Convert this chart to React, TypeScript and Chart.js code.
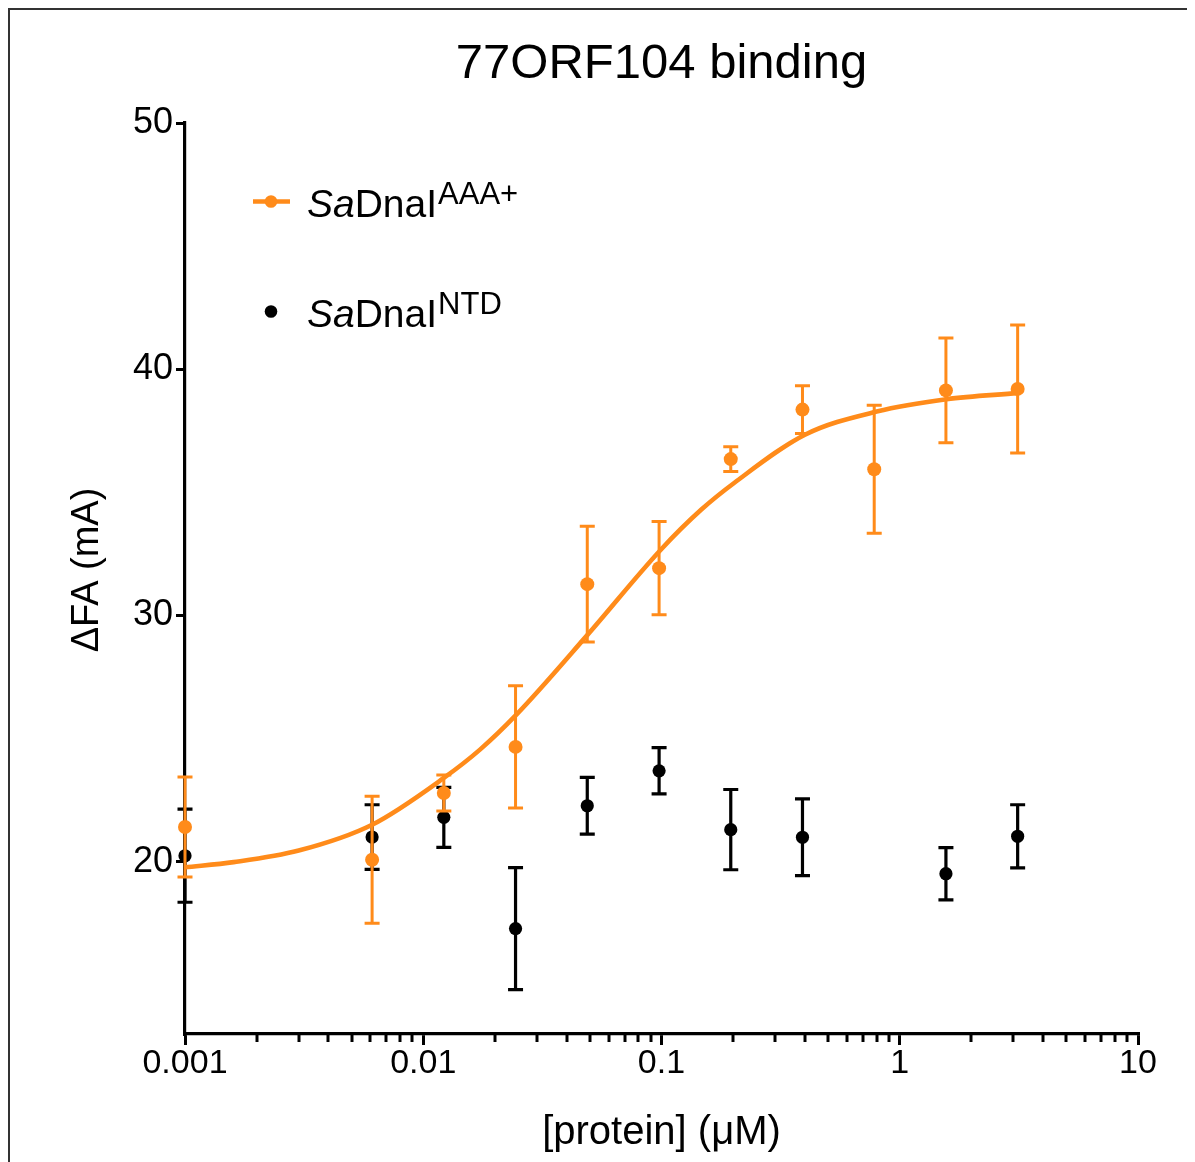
import React, { useEffect, useRef } from 'react';
import { Chart, registerables } from 'chart.js';

Chart.register(...registerables);

// ---- data ----
const chartTitle = '77ORF104 binding';
const yAxisTitle = 'ΔFA (mA)';
const xAxisTitle = '[protein] (μM)';
const concentrations = [0.001, 0.0061, 0.0122, 0.0244, 0.0488, 0.0977, 0.1953, 0.3906, 0.7813, 1.5625, 3.125];
const aaaMean = [21.41, 20.08, 22.79, 24.66, 31.27, 31.92, 36.35, 38.36, 35.94, 39.14, 39.2];
const aaaSem = [2.03, 2.58, 0.73, 2.48, 2.35, 1.89, 0.5, 0.97, 2.6, 2.13, 2.6];
const ntdMean = [20.24, 21.0, 21.8, 17.28, 22.27, 23.69, 21.3, 20.99, null, 19.51, 21.03];
const ntdSem = [1.89, 1.31, 1.22, 2.48, 1.15, 0.94, 1.63, 1.56, null, 1.06, 1.28];
const fitConc = [0.001, 0.0016, 0.003, 0.0061, 0.0122, 0.0173, 0.0246, 0.0488, 0.1, 0.147, 0.203, 0.4, 0.8, 1.57, 3.125];
const fitValues = [19.77, 19.98, 20.45, 21.5, 23.4, 24.55, 25.97, 29.2, 32.7, 34.3, 35.4, 37.34, 38.28, 38.78, 39.03];
const xMajorTicks = [0.001, 0.01, 0.1, 1, 10];
const xMajorLabels = ['0.001', '0.01', '0.1', '1', '10'];
const xMinorMultipliers = [2, 3, 4, 5, 6, 7, 8, 9];
const yTicks = [20, 30, 40, 50];
const legendNames = [
  { prefix: 'Sa', name: 'DnaI', sup: 'AAA+' },
  { prefix: 'Sa', name: 'DnaI', sup: 'NTD' },
];

const ORANGE = '#ff8b1a';
const BLACK = '#000000';
const FONT = "'Liberation Sans', Arial, Helvetica, sans-serif";

const errorBarPlugin = {
  id: 'errorBars',
  beforeDatasetDraw(chart: any, args: any) {
    const ds = chart.data.datasets[args.index];
    if (!ds.errors) return;
    const { ctx } = chart;
    const x = chart.scales.x;
    const y = chart.scales.y;
    const cap = 7.5;
    ctx.save();
    ctx.strokeStyle = ds.errorColor;
    ctx.lineWidth = ds.errorWidth;
    ctx.lineCap = 'butt';
    ds.data.forEach((p: any, i: number) => {
      const e = ds.errors[i];
      if (p.y == null || e == null) return;
      const px = x.getPixelForValue(p.x);
      const top = y.getPixelForValue(p.y + e);
      const bot = y.getPixelForValue(p.y - e);
      ctx.beginPath();
      ctx.moveTo(px, top);
      ctx.lineTo(px, bot);
      ctx.moveTo(px - cap, top);
      ctx.lineTo(px + cap, top);
      ctx.moveTo(px - cap, bot);
      ctx.lineTo(px + cap, bot);
      ctx.stroke();
    });
    ctx.restore();
  },
};

const minorTickPlugin = {
  id: 'minorTicks',
  afterDraw(chart: any) {
    const { ctx, chartArea } = chart;
    const x = chart.scales.x;
    ctx.save();
    ctx.strokeStyle = BLACK;
    ctx.lineWidth = 3;
    for (let d = 0; d < xMajorTicks.length - 1; d++) {
      for (const m of xMinorMultipliers) {
        const px = Math.round(x.getPixelForValue(xMajorTicks[d] * m));
        ctx.beginPath();
        ctx.moveTo(px, chartArea.bottom);
        ctx.lineTo(px, chartArea.bottom + 8);
        ctx.stroke();
      }
    }
    ctx.restore();
  },
};

const titlePlugin = {
  id: 'centeredTitles',
  afterDraw(chart: any) {
    const { ctx, chartArea } = chart;
    ctx.save();
    ctx.fillStyle = BLACK;
    ctx.font = `49px ${FONT}`;
    ctx.textAlign = 'center';
    ctx.textBaseline = 'alphabetic';
    ctx.fillText(chartTitle, (chartArea.left + chartArea.right) / 2, 68);

    ctx.translate(78, 560);
    ctx.rotate(-Math.PI / 2);
    ctx.font = `38px ${FONT}`;
    ctx.textBaseline = 'middle';
    ctx.fillText(yAxisTitle, 0, 0);
    ctx.restore();
  },
};

const customLegendPlugin = {
  id: 'customLegend',
  afterDraw(chart: any) {
    const { ctx } = chart;
    const rows = [
      { markerY: 191.5, baseline: 207, color: ORANGE, line: true },
      { markerY: 301.5, baseline: 317, color: BLACK, line: false },
    ];
    ctx.save();
    rows.forEach((r, i) => {
      const item = legendNames[i];
      const mx = 261;
      if (r.line) {
        ctx.strokeStyle = r.color;
        ctx.lineWidth = 4.5;
        ctx.beginPath();
        ctx.moveTo(243, r.markerY);
        ctx.lineTo(280, r.markerY);
        ctx.stroke();
      }
      ctx.fillStyle = r.color;
      ctx.beginPath();
      ctx.arc(mx, r.markerY, 6.3, 0, Math.PI * 2);
      ctx.fill();

      ctx.fillStyle = BLACK;
      ctx.textBaseline = 'alphabetic';
      ctx.textAlign = 'left';
      let tx = 297;
      ctx.font = `italic 39px ${FONT}`;
      ctx.fillText(item.prefix, tx, r.baseline);
      tx += ctx.measureText(item.prefix).width;
      ctx.font = `39px ${FONT}`;
      ctx.fillText(item.name, tx, r.baseline);
      tx += ctx.measureText(item.name).width + 1;
      ctx.font = `31px ${FONT}`;
      ctx.fillText(item.sup, tx, r.baseline - 13);
    });
    ctx.restore();
  },
};

export default function App() {
  const canvasRef = useRef<HTMLCanvasElement | null>(null);

  useEffect(() => {
    if (!canvasRef.current) return;
    const aaaPoints = concentrations.map((c, i) => ({ x: c, y: aaaMean[i] }));
    const ntdPoints: any[] = [];
    const ntdErrors: any[] = [];
    concentrations.forEach((c, i) => {
      if (ntdMean[i] != null) {
        ntdPoints.push({ x: c, y: ntdMean[i] });
        ntdErrors.push(ntdSem[i]);
      }
    });
    const fitPoints = fitConc.map((c, i) => ({ x: c, y: fitValues[i] }));

    const chart = new Chart(canvasRef.current, {
      type: 'scatter',
      data: {
        datasets: [
          {
            label: 'SaDnaI AAA+',
            data: aaaPoints,
            showLine: false,
            pointRadius: 7,
            pointBorderWidth: 0,
            pointBackgroundColor: ORANGE,
            backgroundColor: ORANGE,
            borderColor: ORANGE,
            clip: false,
            errors: aaaSem,
            errorColor: ORANGE,
            errorWidth: 3,
          } as any,
          {
            label: 'fit',
            data: fitPoints,
            showLine: true,
            pointRadius: 0,
            borderColor: ORANGE,
            borderWidth: 4.6,
            cubicInterpolationMode: 'monotone',
            clip: false,
          } as any,
          {
            label: 'SaDnaI NTD',
            data: ntdPoints,
            showLine: false,
            pointRadius: 6.6,
            pointBorderWidth: 0,
            pointBackgroundColor: BLACK,
            backgroundColor: BLACK,
            borderColor: BLACK,
            clip: false,
            errors: ntdErrors,
            errorColor: BLACK,
            errorWidth: 3.2,
          } as any,
        ],
      },
      options: {
        responsive: false,
        animation: false,
        events: [],
        layout: { padding: { top: 113, right: 57, bottom: 0, left: 0 } },
        plugins: {
          legend: { display: false },
          tooltip: { enabled: false },
          title: { display: false },
        },
        scales: {
          x: {
            type: 'logarithmic',
            min: 0.001,
            max: 10,
            afterBuildTicks: (s: any) => {
              s.ticks = xMajorTicks.map((v) => ({ value: v, major: true }));
            },
            afterFit: (s: any) => {
              s.height = 128;
            },
            ticks: {
              autoSkip: false,
              maxRotation: 0,
              minRotation: 0,
              color: BLACK,
              padding: 2,
              font: { family: FONT, size: 34, lineHeight: 1 },
              callback: (_v: any, i: number) => xMajorLabels[i],
            },
            grid: {
              display: true,
              drawOnChartArea: false,
              drawTicks: true,
              tickLength: 11,
              tickWidth: 3,
              lineWidth: 3,
              color: BLACK,
              tickColor: BLACK,
            },
            border: { display: true, color: BLACK, width: 3.2 },
            title: {
              display: true,
              text: xAxisTitle,
              color: BLACK,
              font: { family: FONT, size: 40, lineHeight: 1.2 },
              padding: { top: 0, bottom: 5 },
            },
          } as any,
          y: {
            type: 'linear',
            min: 13,
            max: 50,
            afterBuildTicks: (s: any) => {
              s.ticks = yTicks.map((v) => ({ value: v }));
            },
            afterFit: (s: any) => {
              s.width = 175;
            },
            ticks: {
              color: BLACK,
              padding: 3,
              font: { family: FONT, size: 36, lineHeight: 1 },
              callback: (v: any) => String(v),
            },
            grid: {
              display: true,
              drawOnChartArea: false,
              drawTicks: true,
              tickLength: 9,
              tickWidth: 3,
              lineWidth: 3,
              color: BLACK,
              tickColor: BLACK,
            },
            border: { display: true, color: BLACK, width: 3.2 },
            title: { display: false },
          } as any,
        },
      },
      plugins: [errorBarPlugin, minorTickPlugin, titlePlugin, customLegendPlugin],
    } as any);

    return () => chart.destroy();
  }, []);

  return (
    <>
      <style>{'html,body{overflow:hidden}'}</style>
      <div
        style={{
          width: 1185,
          height: 1152,
          borderTop: '2px solid #333',
          borderLeft: '2px solid #333',
          background: '#fff',
        }}
      >
        <canvas ref={canvasRef} width={1185} height={1152} style={{ display: 'block', width: 1185, height: 1152 }} />
      </div>
    </>
  );
}
